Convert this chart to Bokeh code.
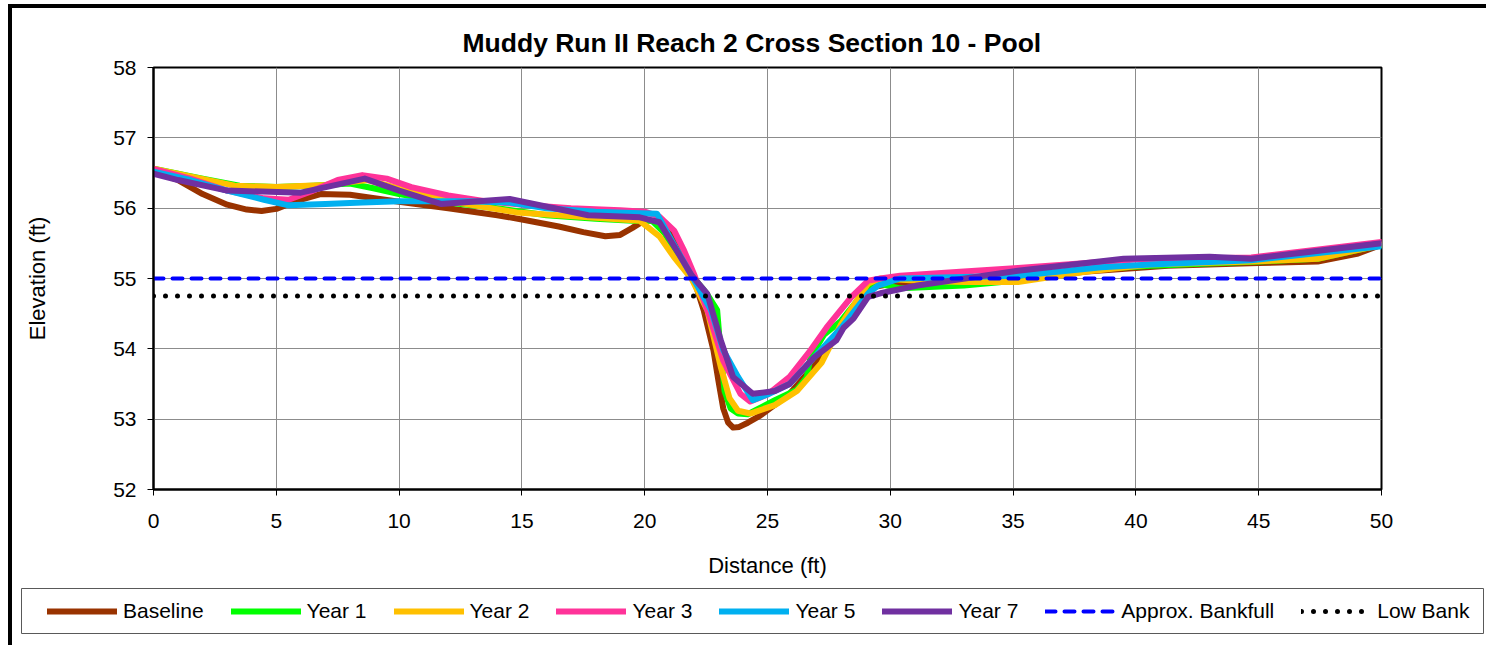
import numpy as np
from bokeh.plotting import figure
from bokeh.models import Legend, LegendItem, Range1d, FixedTicker
from bokeh.embed import file_html
from bokeh.resources import INLINE

# ---------------- data ----------------
baseline_x = [0, 1, 2, 3, 3.8, 4.4, 5, 5.8, 6.8, 8, 9, 10, 12, 14, 15, 16.5, 17.5, 18.4, 19, 19.5, 20, 20.8,
              21.4, 21.9, 22.4, 22.8, 23.0, 23.2, 23.4, 23.6, 23.85, 24.2, 24.7, 25.9, 27, 28, 28.7, 29.3, 30,
              32, 35, 38, 41.3, 45, 47.4, 49, 50]
baseline_y = [56.52, 56.4, 56.2, 56.05, 55.98, 55.96, 55.99, 56.1, 56.2, 56.19, 56.14, 56.09, 56.0, 55.9, 55.84,
              55.74, 55.66, 55.6, 55.62, 55.72, 55.83, 55.8, 55.5, 55.1, 54.55, 53.98, 53.55, 53.15, 52.95, 52.88,
              52.89, 52.95, 53.05, 53.36, 53.8, 54.26, 54.64, 54.88, 54.92, 54.9, 54.98, 55.1, 55.18, 55.22,
              55.24, 55.35, 55.48]

year1_x = [0, 2, 3.5, 5, 6.5, 8, 9, 10, 12, 14, 16, 18, 19.5, 20.3, 20.8, 21.3, 21.9, 22.5, 22.95, 23.1, 23.25,
           23.5, 23.8, 24.2, 25.3, 26.2, 26.6, 26.75, 27.3, 28, 29.1, 29.6, 30.4, 33, 35.2, 38.6, 40.6, 45, 47.4, 50]
year1_y = [56.56, 56.42, 56.32, 56.3, 56.32, 56.35, 56.28, 56.2, 56.08, 56.0, 55.9, 55.85, 55.82, 55.82, 55.65,
           55.35, 55.05, 54.8, 54.55, 53.93, 53.4, 53.15, 53.08, 53.07, 53.27, 53.42, 53.6, 53.88, 54.2, 54.4,
           54.88, 54.92, 54.86, 54.9, 54.97, 55.14, 55.18, 55.24, 55.28, 55.48]

year2_x = [0, 1.5, 3.3, 5, 7, 8.7, 10, 12, 14.8, 17.7, 19.8, 20.6, 21.2, 21.9, 22.55, 23.1, 23.45, 23.8, 24.3,
           25.3, 26.2, 27.2, 28, 29.1, 29.6, 31, 33, 35.2, 38, 40.6, 44.7, 47.4, 50]
year2_y = [56.56, 56.45, 56.32, 56.3, 56.33, 56.4, 56.28, 56.1, 55.94, 55.87, 55.82, 55.6, 55.3, 55.0, 54.55,
           53.74, 53.3, 53.12, 53.08, 53.2, 53.4, 53.8, 54.35, 54.93, 55.0, 54.97, 54.95, 54.95, 55.1, 55.2,
           55.24, 55.28, 55.48]

year3_x = [0, 1.5, 3, 4.5, 5.5, 6.5, 7.5, 8.5, 9.5, 10.5, 12, 13.5, 15, 17, 19, 20, 20.6, 21.2, 21.6, 22, 22.6,
           23.2, 23.9, 24.3, 25, 25.9, 26.75, 27.4, 28.4, 29.1, 29.6, 30.4, 33, 35.2, 38, 40, 44.7, 50]
year3_y = [56.56, 56.42, 56.25, 56.14, 56.12, 56.25, 56.4, 56.47, 56.42, 56.3, 56.18, 56.1, 56.05, 56.0, 55.97,
           55.95, 55.88, 55.68, 55.4, 55.07, 54.5, 53.83, 53.36, 53.25, 53.35, 53.6, 53.98, 54.3, 54.73, 54.97,
           55.0, 55.04, 55.1, 55.15, 55.22, 55.27, 55.3, 55.52]

year5_x = [0, 1.5, 3, 4.5, 5.5, 7, 8.5, 10, 11.5, 12.8, 14.5, 16, 18, 19.5, 20.5, 21.0, 21.86, 22.7, 23.2, 23.8,
           24.4, 25.0, 25.9, 26.9, 28, 29.1, 29.5, 30.4, 33, 35.2, 38.6, 40.6, 44.7, 50]
year5_y = [56.52, 56.4, 56.25, 56.12, 56.04, 56.06, 56.08, 56.1, 56.1, 56.1, 56.08, 56.0, 55.95, 55.93, 55.92,
           55.6, 55.07, 54.55, 53.98, 53.6, 53.27, 53.35, 53.5, 53.88, 54.3, 54.79, 54.9, 55.0, 55.02, 55.04,
           55.16, 55.2, 55.26, 55.46]

year7_x = [0, 1, 3, 6, 8.6, 10, 11.7, 14.5, 17.7, 19.8, 20.6, 21.3, 21.9, 22.55, 23.1, 23.6, 24.4, 25.3, 25.9,
           26.9, 27.8, 28.1, 28.5, 29.1, 29.6, 31.1, 35.2, 39.5, 43, 44.7, 50]
year7_y = [56.49, 56.4, 56.25, 56.22, 56.42, 56.25, 56.06, 56.13, 55.9, 55.87, 55.8, 55.4, 55.05, 54.78, 54.12,
           53.6, 53.36, 53.4, 53.5, 53.88, 54.12, 54.3, 54.43, 54.74, 54.79, 54.9, 55.11, 55.28, 55.31, 55.28, 55.5]

bankfull_x = [0, 50]
bankfull_y = [55.0, 55.0]
lowbank_x = [0, 50]
lowbank_y = [54.75, 54.75]

x_ticks = [0, 5, 10, 15, 20, 25, 30, 35, 40, 45, 50]
y_ticks = [52, 53, 54, 55, 56, 57, 58]

series = [
    ("Baseline", baseline_x, baseline_y, "#993300"),
    ("Year 1", year1_x, year1_y, "#00FF00"),
    ("Year 2", year2_x, year2_y, "#FFC000"),
    ("Year 3", year3_x, year3_y, "#FF3399"),
    ("Year 5", year5_x, year5_y, "#00B0F0"),
    ("Year 7", year7_x, year7_y, "#7030A0"),
]

FONT = "Liberation Sans"
SERIES_W = 6
BANK_STYLE = dict(line_color="#0000FF", line_width=4, line_dash="10 9", line_cap="round")
LOW_STYLE = dict(line_color="black", line_width=5, line_dash="0 12", line_cap="round")

# ---------------- main chart ----------------
p = figure(width=1486, height=587, output_backend="svg", toolbar_location=None,
           x_range=Range1d(0, 50), y_range=Range1d(52, 58),
           min_border_left=153, min_border_right=105, min_border_top=67, min_border_bottom=98,
           title="Muddy Run II Reach 2 Cross Section 10 - Pool")

p.border_fill_color = None
p.background_fill_color = "white"
p.styles = {"box-shadow": "inset 8px 4px 0 0 white, inset 12px 8px 0 0 black"}

p.title.text_font = FONT
p.title.text_font_size = "26.5px"
p.title.text_font_style = "bold"
p.title.text_color = "black"
p.title.align = "left"
p.title.offset = 309
p.title.standoff = 20

p.outline_line_color = "black"
p.outline_line_width = 2

for ax in (p.xaxis[0], p.yaxis[0]):
    ax.axis_line_color = "black"
    ax.axis_line_width = 2
    ax.major_tick_line_color = "black"
    ax.major_tick_line_width = 1
    ax.major_tick_in = 0
    ax.major_tick_out = 6
    ax.minor_tick_line_color = None
    ax.major_label_text_font = FONT
    ax.major_label_text_font_size = "21px"
    ax.major_label_text_color = "black"
    ax.axis_label_text_font = FONT
    ax.axis_label_text_font_size = "22px"
    ax.axis_label_text_font_style = "normal"
    ax.axis_label_text_color = "black"

p.xaxis.ticker = FixedTicker(ticks=x_ticks)
p.yaxis.ticker = FixedTicker(ticks=y_ticks)
p.xaxis.axis_label = "Distance (ft)"
p.yaxis.axis_label = "Elevation (ft)"
p.xaxis.major_label_standoff = 18
p.yaxis.major_label_standoff = 11
p.xaxis.axis_label_standoff = 22
p.yaxis.axis_label_standoff = 60

p.xgrid.ticker = FixedTicker(ticks=x_ticks)
p.ygrid.ticker = FixedTicker(ticks=y_ticks)
p.grid.grid_line_color = "#8c8c8c"
p.grid.grid_line_width = 1

for name, xs, ys, col in series:
    p.line(xs, ys, line_color=col, line_width=SERIES_W, line_join="round", line_cap="round")
p.line(bankfull_x, bankfull_y, **BANK_STYLE)
p.line(lowbank_x, lowbank_y, **LOW_STYLE)

# ---------------- legend strip (separate root; its frame outline is the legend box) ----------------
q = figure(width=1486, height=58, output_backend="svg", toolbar_location=None,
           x_range=Range1d(0, 1), y_range=Range1d(0, 1),
           x_axis_location=None, y_axis_location=None,
           min_border_left=21, min_border_right=3, min_border_top=1, min_border_bottom=12)
q.grid.visible = False
q.outline_line_color = "#595959"
q.outline_line_width = 1
q.border_fill_color = None
q.background_fill_color = "white"
q.styles = {"box-shadow": "inset 8px 0 0 0 white, inset 12px 0 0 0 black"}

nan_x = np.array([np.nan])
nan_y = np.array([np.nan])
items = []
for name, xs, ys, col in series:
    r = q.line(x=nan_x, y=nan_y, line_color=col, line_width=SERIES_W, line_cap="round")
    items.append(LegendItem(label=name, renderers=[r]))
rb = q.line(x=nan_x, y=nan_y, **BANK_STYLE)
items.append(LegendItem(label="Approx. Bankfull", renderers=[rb]))
rl = q.line(x=nan_x, y=nan_y, **LOW_STYLE)
items.append(LegendItem(label="Low Bank", renderers=[rl]))

legend = Legend(items=items, orientation="horizontal", location=(26, 10))
legend.glyph_width = 70
legend.glyph_height = 20
legend.label_standoff = 6
legend.spacing = 27
legend.padding = 10
legend.margin = 0
legend.label_text_font = FONT
legend.label_text_font_size = "21px"
legend.label_text_color = "black"
legend.border_line_color = None
legend.background_fill_alpha = 0
q.add_layout(legend, "center")

open("out.html", "w").write(file_html([p, q], INLINE))
